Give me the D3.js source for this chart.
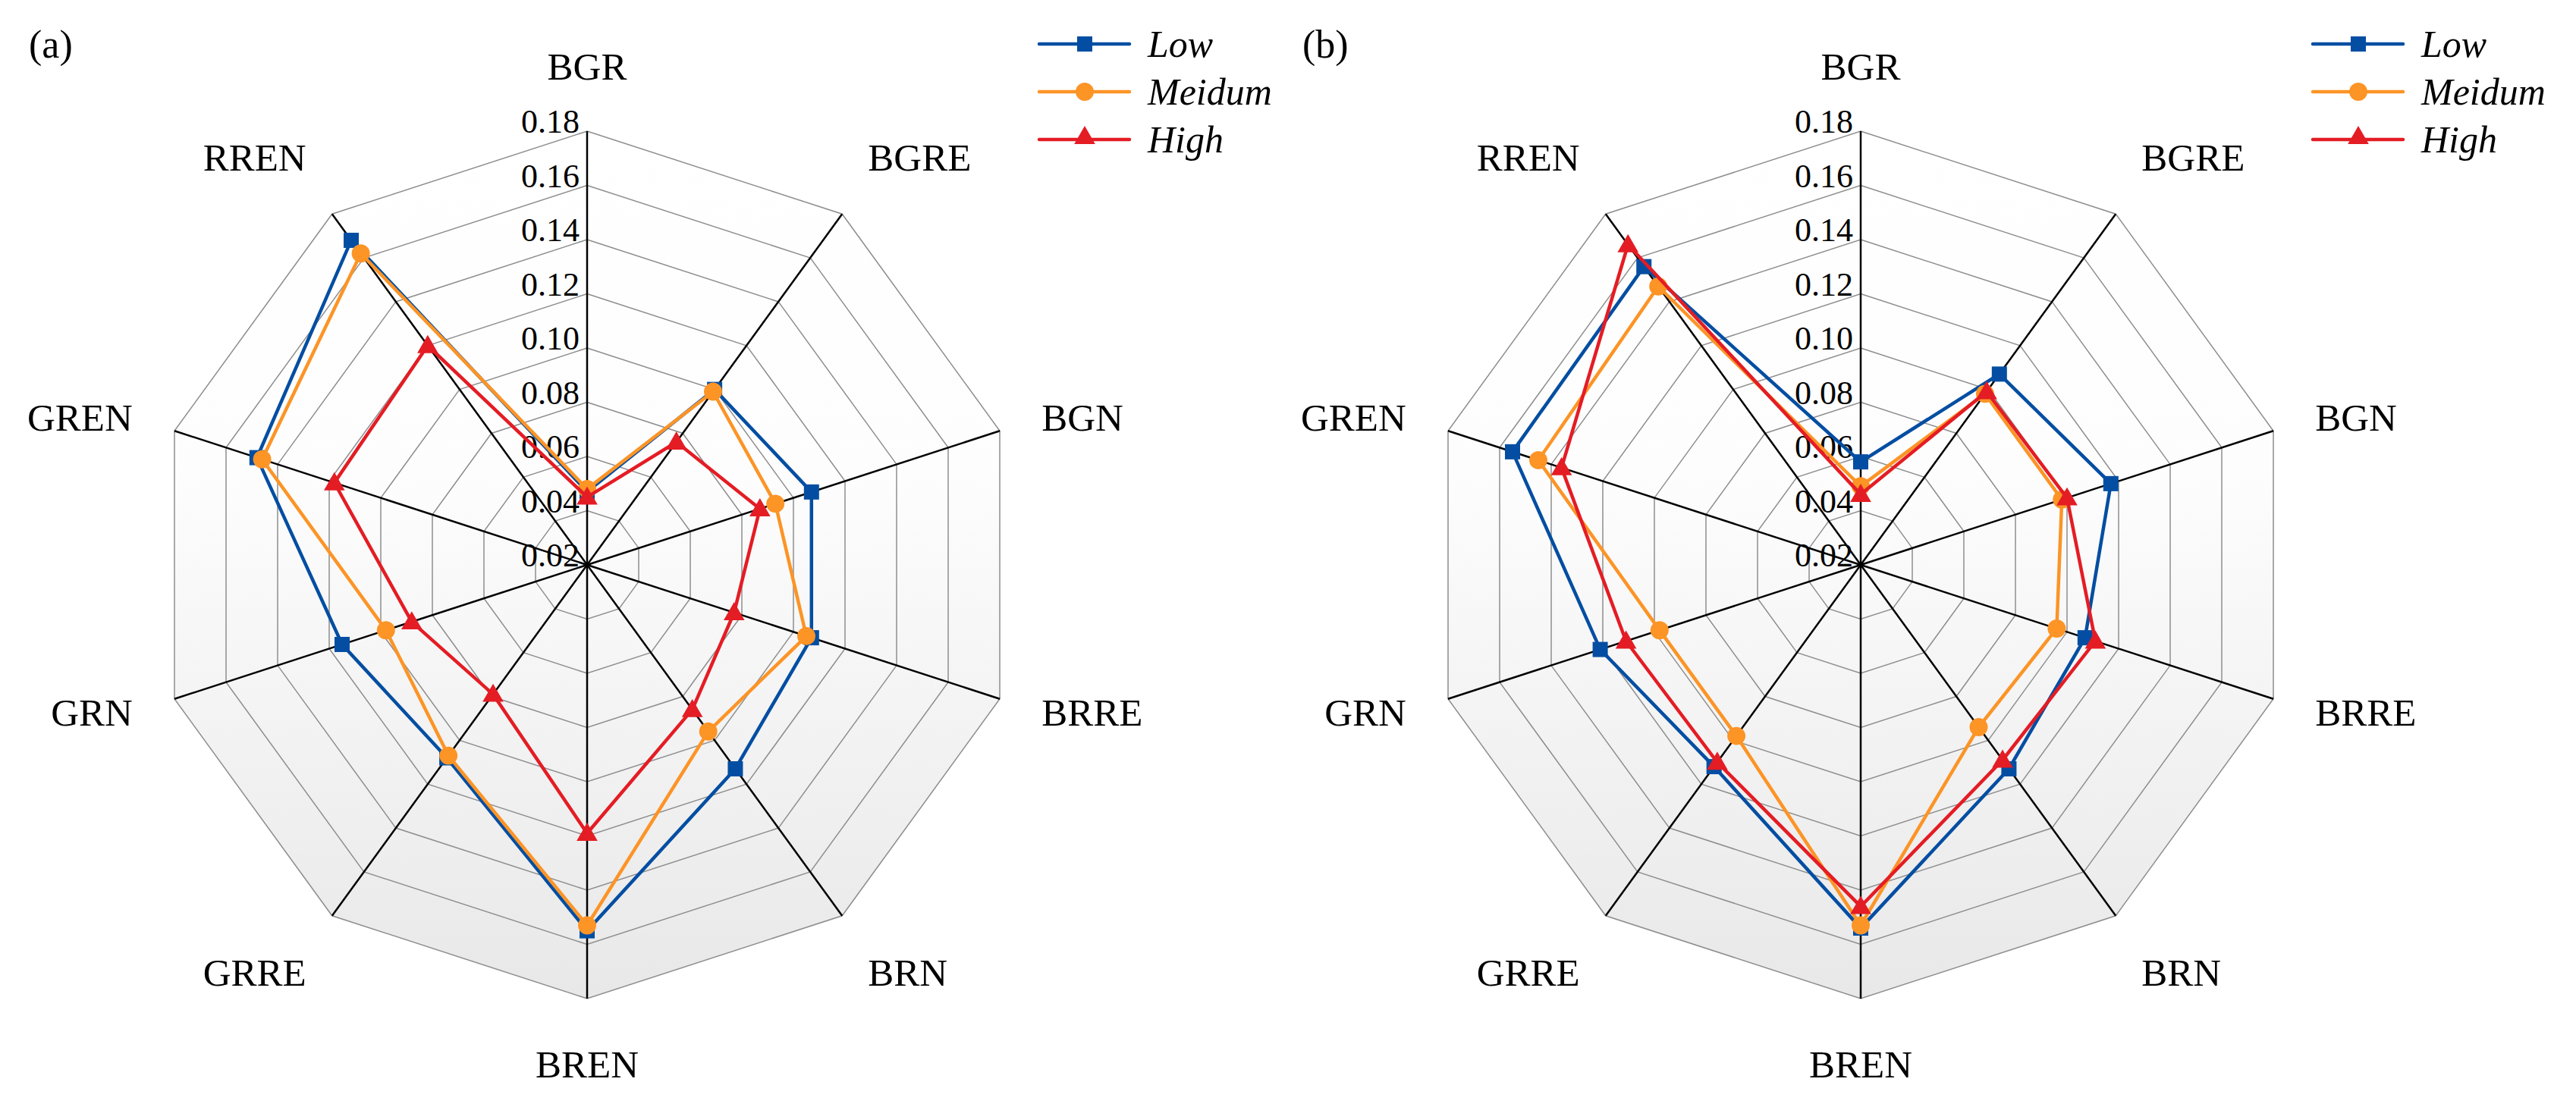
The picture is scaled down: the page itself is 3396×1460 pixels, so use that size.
<!DOCTYPE html>
<html>
<head>
<meta charset="utf-8">
<script src="https://cdn.jsdelivr.net/npm/d3@7"></script>
<style>
  html, body { margin: 0; padding: 0; background: #fff; }
  svg { display: block; }
  text { font-family: 'Liberation Serif', 'Times New Roman', serif; fill: #000; }
</style>
</head>
<body>
<svg id="chart" width="3396" height="1460"></svg>
<script>
// indices, clockwise from the top
const axes = ['BGR', 'BGRE', 'BGN', 'BRRE', 'BRN', 'BREN', 'GRRE', 'GRN', 'GREN', 'RREN']
const ticks = [0.02, 0.04, 0.06, 0.08, 0.10, 0.12, 0.14, 0.16, 0.18]
const seriesNames = ['Low', 'Meidum', 'High']

const lowA = [0.047, 0.100, 0.107, 0.107, 0.113, 0.155, 0.108, 0.115, 0.148, 0.168]
const medA = [0.048, 0.099, 0.093, 0.105, 0.096, 0.153, 0.107, 0.098, 0.146, 0.162]
const highA = [0.045, 0.076, 0.087, 0.077, 0.086, 0.119, 0.079, 0.088, 0.118, 0.120]

const lowB = [0.058, 0.107, 0.117, 0.107, 0.113, 0.154, 0.112, 0.121, 0.155, 0.156]
const medB = [0.049, 0.098, 0.098, 0.096, 0.094, 0.153, 0.098, 0.098, 0.145, 0.147]
const highB = [0.046, 0.099, 0.100, 0.111, 0.109, 0.146, 0.110, 0.111, 0.136, 0.166]

const colors = ['#034ea2', '#fc9426', '#e41c24']
const symbols = [d3.symbolSquare, d3.symbolCircle, d3.symbolTriangle]
const symbolSizes = [400, 450, 330]

const radius = 572
const svg = d3.select('#chart')

svg.append('rect').attr('width', 3396).attr('height', 1460).attr('fill', '#fff')

function drawRadar({ id, cx, cy, label, series }) {
  const g = svg.append('g').attr('transform', `translate(${cx},${cy})`)

  const rScale = d3.scaleLinear().domain([0.02, 0.18]).range([0, radius])
  const angle = d3.scaleLinear().domain([0, axes.length]).range([0, 2 * Math.PI])
  const dir = (i) => [Math.sin(angle(i)), -Math.cos(angle(i))]
  const pt = (i, v) => {
    const [dx, dy] = dir(i)
    return [dx * rScale(v), dy * rScale(v)]
  }

  // background shading
  const grad = svg
    .append('defs')
    .append('linearGradient')
    .attr('id', 'bg-' + id)
    .attr('gradientUnits', 'userSpaceOnUse')
    .attr('x1', 0)
    .attr('x2', 0)
    .attr('y1', -radius)
    .attr('y2', radius)
  grad.append('stop').attr('offset', 0).attr('stop-color', '#ffffff')
  grad.append('stop').attr('offset', 0.4).attr('stop-color', '#fdfdfd')
  grad.append('stop').attr('offset', 1).attr('stop-color', '#e8e8e8')

  const ring = (v) => axes.map((a, i) => pt(i, v))

  g.append('polygon')
    .attr('points', ring(0.18).join(' '))
    .attr('fill', `url(#bg-${id})`)

  g.selectAll('.ring')
    .data(ticks.slice(1))
    .enter()
    .append('polygon')
    .attr('class', 'ring')
    .attr('points', (d) => ring(d).join(' '))
    .attr('fill', 'none')
    .attr('stroke', '#8e8e8e')
    .attr('stroke-width', 1.5)

  g.selectAll('.spoke')
    .data(axes)
    .enter()
    .append('line')
    .attr('class', 'spoke')
    .attr('x1', 0)
    .attr('y1', 0)
    .attr('x2', (d, i) => pt(i, 0.18)[0])
    .attr('y2', (d, i) => pt(i, 0.18)[1])
    .attr('stroke', '#000')
    .attr('stroke-width', 2.5)

  // tick labels along the top axis
  g.selectAll('.tick')
    .data(ticks)
    .enter()
    .append('text')
    .attr('class', 'tick')
    .attr('x', -10)
    .attr('y', (d) => -rScale(d) + 2)
    .attr('text-anchor', 'end')
    .attr('font-size', 44)
    .text((d) => d3.format('.2f')(d))

  // category labels
  g.selectAll('.cat')
    .data(axes)
    .enter()
    .append('text')
    .attr('class', 'cat')
    .attr('font-size', 51)
    .attr('text-anchor', (d, i) => {
      const dx = dir(i)[0]
      return dx > 0.1 ? 'start' : dx < -0.1 ? 'end' : 'middle'
    })
    .attr('x', (d, i) => dir(i)[0] * (radius + 58))
    .attr('y', (d, i) => {
      const dy = dir(i)[1]
      const extra = Math.abs(dy) > 0.5 ? Math.sign(dy) * 28 : 0
      return dy * (radius + 58) + extra + 17.5
    })
    .text((d) => d)

  // series
  const line = d3.line().curve(d3.curveLinearClosed)
  series.forEach((values, s) => {
    const pts = values.map((v, i) => pt(i, v))
    g.append('path')
      .attr('d', line(pts))
      .attr('fill', 'none')
      .attr('stroke', colors[s])
      .attr('stroke-width', 4.5)
      .attr('stroke-linejoin', 'miter')

    g.selectAll('.m' + s)
      .data(pts)
      .enter()
      .append('path')
      .attr('class', 'm' + s)
      .attr('transform', (d) => `translate(${d[0]},${d[1] + (s === 2 ? 2 : 0)})`)
      .attr('d', d3.symbol().type(symbols[s]).size(symbolSizes[s]))
      .attr('fill', colors[s])
  })

  // panel label
  svg.append('text')
    .attr('x', cx - 736)
    .attr('y', 76)
    .attr('font-size', 52)
    .text(label)

  // legend
  const legend = svg.append('g').attr('transform', `translate(${cx + 596},0)`)
  const rowY = d3.scalePoint().domain(seriesNames).range([58, 184])
  seriesNames.forEach((name, s) => {
    const y = rowY(name)
    legend.append('line')
      .attr('x1', 0)
      .attr('x2', 119)
      .attr('y1', y)
      .attr('y2', y)
      .attr('stroke', colors[s])
      .attr('stroke-width', 4.5)
      .attr('stroke-linecap', 'round')
    legend.append('path')
      .attr('transform', `translate(60,${y + (s === 2 ? -2 : 0)})`)
      .attr('d', d3.symbol().type(symbols[s]).size(symbolSizes[s]))
      .attr('fill', colors[s])
    legend.append('text')
      .attr('x', 143)
      .attr('y', y + 17)
      .attr('font-size', 50)
      .attr('font-style', 'italic')
      .text(name)
  })
}

drawRadar({ id: 'a', cx: 774, cy: 745, label: '(a)', series: [lowA, medA, highA] })
drawRadar({ id: 'b', cx: 2453, cy: 745, label: '(b)', series: [lowB, medB, highB] })
</script>
</body>
</html>
